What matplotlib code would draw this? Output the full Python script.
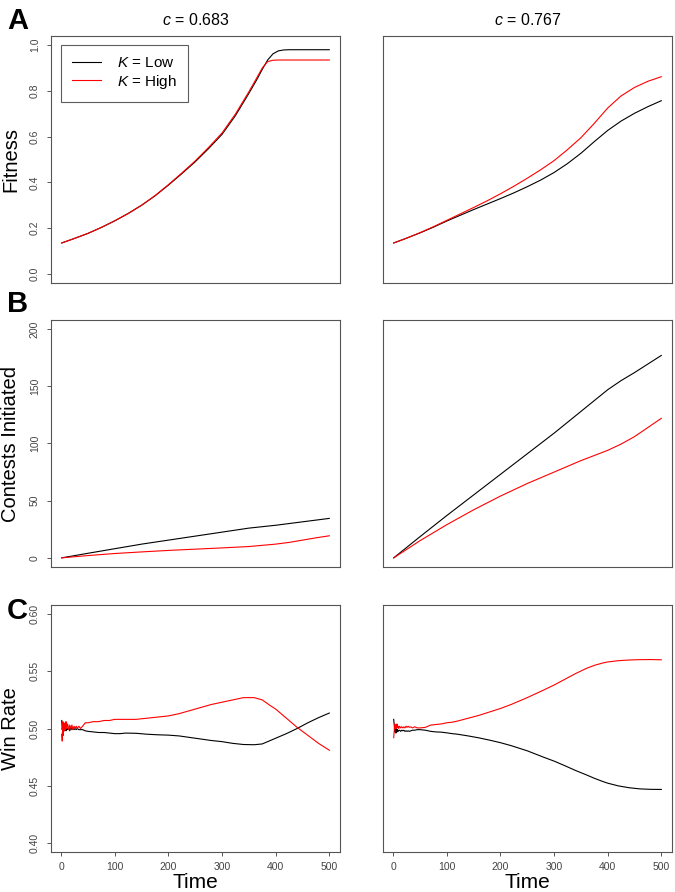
import numpy as np
import matplotlib
matplotlib.use('Agg')
from matplotlib import pyplot as plt

plt.rcParams['font.family'] = ['Liberation Sans', 'DejaVu Sans']
plt.rcParams['mathtext.fontset'] = 'custom'
plt.rcParams['mathtext.rm'] = 'Liberation Sans'
plt.rcParams['mathtext.it'] = 'Liberation Sans:italic'

# --- data ---
c_values = ['0.683', '0.767']
row_labels = ['Fitness', 'Contests Initiated', 'Win Rate']
panel_letters = ['A', 'B', 'C']
series_names = [r'$K$ = Low', r'$K$ = High']

# A: fitness
t_fit_left = [1, 25, 50, 75, 100, 125, 150, 175, 200, 225, 250, 275, 300, 325, 350,
              365, 375, 385, 395, 405, 415, 425, 450, 475, 500]
fit_left_low = [0.135, 0.155, 0.177, 0.203, 0.232, 0.264, 0.300, 0.341, 0.388, 0.438, 0.490,
                0.548, 0.610, 0.692, 0.789, 0.850, 0.894, 0.935, 0.962, 0.975, 0.979, 0.980,
                0.980, 0.980, 0.980]
fit_left_high = [0.135, 0.155, 0.177, 0.203, 0.232, 0.264, 0.300, 0.342, 0.390, 0.441, 0.494,
                 0.553, 0.616, 0.699, 0.796, 0.858, 0.900, 0.928, 0.934, 0.935, 0.935, 0.935,
                 0.935, 0.935, 0.935]

t_fit_right = [1, 25, 50, 75, 100, 125, 150, 175, 200, 225, 250, 275, 300, 325, 350,
               375, 400, 425, 450, 475, 500]
fit_right_low = [0.135, 0.156, 0.179, 0.204, 0.231, 0.256, 0.281, 0.305, 0.329, 0.354, 0.381,
                 0.410, 0.443, 0.482, 0.527, 0.578, 0.627, 0.668, 0.702, 0.731, 0.757]
fit_right_high = [0.135, 0.156, 0.180, 0.206, 0.234, 0.262, 0.290, 0.319, 0.350, 0.383, 0.418,
                  0.455, 0.495, 0.543, 0.595, 0.658, 0.725, 0.778, 0.815, 0.842, 0.862]

# B: contests initiated
t_cont = [1, 50, 100, 150, 200, 250, 300, 350, 400, 425, 450, 475, 500]
cont_left_low = [0, 4, 8, 12, 15.5, 19, 22.5, 26, 28.5, 30, 31.5, 33, 34.5]
cont_left_high = [0, 2, 3.8, 5.2, 6.5, 7.6, 8.7, 9.9, 12, 13.5, 15.5, 17.5, 19.3]
cont_right_low = [0, 18.5, 37, 55, 73, 91, 109, 128, 147, 155, 162, 169.5, 177]
cont_right_high = [0, 15, 29, 42, 54, 65, 75, 85, 94, 99.5, 106, 114, 122]

# C: win rate
t_win = [1, 2, 3, 4, 5, 6, 7, 8, 9, 10, 12, 14, 16, 18, 20, 22, 24, 26, 28, 30, 33, 36, 40,
         45, 50, 60, 70, 80, 90, 100, 110, 120, 140, 160, 180, 200, 220, 250, 280, 300, 320,
         340, 360, 375, 390, 400, 420, 440, 460, 480, 500]
win_left_low = [0.507, 0.499, 0.503, 0.497, 0.502, 0.498, 0.501, 0.500, 0.498, 0.501, 0.499,
                0.501, 0.498, 0.501, 0.499, 0.500, 0.499, 0.500, 0.499, 0.500, 0.499, 0.499,
                0.499, 0.498, 0.4975, 0.497, 0.4965, 0.4965, 0.496, 0.4955, 0.4955, 0.496,
                0.4958, 0.495, 0.4945, 0.4942, 0.4935, 0.4915, 0.4895, 0.4885, 0.487, 0.486,
                0.4858, 0.4865, 0.4895, 0.4915, 0.4955, 0.500, 0.505, 0.5095, 0.5135]
win_left_high = [0.495, 0.489, 0.506, 0.494, 0.505, 0.498, 0.504, 0.499, 0.506, 0.500, 0.504,
                 0.499, 0.503, 0.500, 0.503, 0.499, 0.502, 0.500, 0.502, 0.500, 0.502, 0.500,
                 0.502, 0.505, 0.505, 0.506, 0.506, 0.507, 0.507, 0.508, 0.508, 0.508, 0.508,
                 0.509, 0.510, 0.511, 0.513, 0.517, 0.521, 0.523, 0.525, 0.527, 0.527, 0.525,
                 0.520, 0.517, 0.509, 0.501, 0.494, 0.487, 0.481]
win_right_low = [0.508, 0.503, 0.497, 0.501, 0.496, 0.499, 0.497, 0.499, 0.4975, 0.498, 0.4985,
                 0.4975, 0.4985, 0.498, 0.4985, 0.4975, 0.498, 0.4975, 0.498, 0.4975, 0.498,
                 0.4985, 0.4985, 0.499, 0.499, 0.4985, 0.4975, 0.497, 0.4968, 0.4962, 0.4955,
                 0.495, 0.4935, 0.4918, 0.4898, 0.4876, 0.485, 0.4805, 0.475, 0.4715, 0.4675,
                 0.4633, 0.4595, 0.4565, 0.4538, 0.4522, 0.4498, 0.4482, 0.4472, 0.4468, 0.4467]
win_right_high = [0.492, 0.498, 0.504, 0.500, 0.503, 0.500, 0.504, 0.501, 0.502, 0.500, 0.502,
                  0.5005, 0.5015, 0.5005, 0.5015, 0.5005, 0.502, 0.501, 0.502, 0.501, 0.5015,
                  0.5005, 0.5015, 0.5005, 0.5005, 0.501, 0.503, 0.5035, 0.504, 0.505, 0.5055,
                  0.5065, 0.509, 0.5115, 0.5145, 0.5175, 0.521, 0.527, 0.5335, 0.538, 0.543,
                  0.548, 0.5525, 0.5552, 0.5572, 0.5582, 0.5593, 0.5599, 0.5602, 0.5603, 0.5601]

x_ticks = [0, 100, 200, 300, 400, 500]
y_ticks = [[0.0, 0.2, 0.4, 0.6, 0.8, 1.0], [0, 50, 100, 150, 200],
           [0.40, 0.45, 0.50, 0.55, 0.60]]
y_ticklabels = [['0.0', '0.2', '0.4', '0.6', '0.8', '1.0'], ['0', '50', '100', '150', '200'],
                ['0.40', '0.45', '0.50', '0.55', '0.60']]
y_ranges = [(0, 1), (0, 200), (0.4, 0.6)]

panels = [
    [(t_fit_left, fit_left_low, fit_left_high), (t_fit_right, fit_right_low, fit_right_high)],
    [(t_cont, cont_left_low, cont_left_high), (t_cont, cont_right_low, cont_right_high)],
    [(t_win, win_left_low, win_left_high), (t_win, win_right_low, win_right_high)],
]

W, H = 675, 892
fig = plt.figure(figsize=(W / 100, H / 100), dpi=100)

col_left = [51, 383]
row_top = [36, 320, 605]
pw, ph = 289, 247
frame_col = '#555555'
tick_col = '#444444'

for r in range(3):
    lo, hi = y_ranges[r]
    pad = (hi - lo) * 0.04
    for c in range(2):
        ax = fig.add_axes([col_left[c] / W, 1 - (row_top[r] + ph) / H, pw / W, ph / H])
        t, low, high = panels[r][c]
        ax.plot(t, low, color='black', lw=0.8, label=series_names[0])
        ax.plot(t, high, color='red', lw=0.8, label=series_names[1])
        ax.set_xlim(1 - 499 * 0.04, 500 + 499 * 0.04)
        ax.set_ylim(lo - pad, hi + pad)
        for s in ax.spines.values():
            s.set_color(frame_col)
            s.set_linewidth(0.8)
        ax.tick_params(colors=frame_col, labelcolor=tick_col, length=3, width=0.7,
                       labelsize=7.5)
        if c == 0:
            ax.set_yticks(y_ticks[r])
            ax.set_yticklabels(y_ticklabels[r], rotation=90, va='center')
            ax.tick_params(axis='y', pad=5)
            fig.text(11 / W, 1 - (row_top[r] + ph / 2) / H, row_labels[r], rotation=90,
                     ha='center', va='center', fontsize=14.5)
        else:
            ax.set_yticks([])
        if r == 2:
            ax.set_xticks(x_ticks)
            ax.tick_params(axis='x', pad=4)
            fig.text((col_left[c] + pw / 2) / W, 1 - 882 / H, 'Time', ha='center',
                     va='center', fontsize=15)
        else:
            ax.set_xticks([])
        if r == 0:
            ax.set_title(r'$c$ = ' + c_values[c], fontsize=11.5, pad=8)
        if r == 0 and c == 0:
            leg = ax.legend(loc='upper left', bbox_to_anchor=(10 / pw, 1 - 9 / ph),
                            borderaxespad=0, fancybox=False, fontsize=11,
                            handlelength=1.9, handletextpad=1.0, borderpad=0.75,
                            labelspacing=0.15)
            leg.get_frame().set_edgecolor('#333333')
            leg.get_frame().set_linewidth(0.8)

for letter, y in zip(panel_letters, [7, 290, 597]):
    fig.text(7 / W, 1 - y / H, letter, ha='left', va='top', fontsize=21,
             fontweight='bold')

fig.savefig('out.png', dpi=100)
